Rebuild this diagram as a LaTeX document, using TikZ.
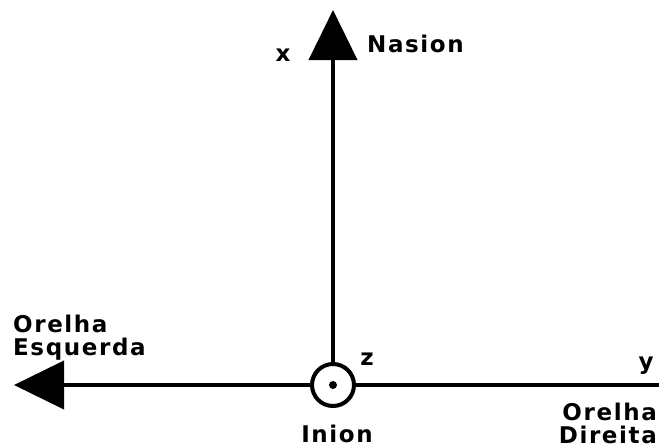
\documentclass[tikz,border=0pt]{standalone}
\usepackage{fontspec}
\setmainfont{DejaVu Sans}
\usepackage{tikz}
\usetikzlibrary{arrows.meta,positioning}
\newfontfamily\labelfont[LetterSpace=7]{DejaVu Sans}
\tikzset{
  axisline/.style={line width=4pt, color=black},
  axisarrow/.style={axisline, -{Triangle[length=50pt,width=48pt]}},
  axislabel/.style={font=\labelfont\fontsize{23}{22.5}\selectfont\bfseries, inner sep=0pt, align=left},
  origin/.style={circle, draw, line width=4pt, fill=white, minimum size=42pt, inner sep=0pt}
}
\begin{document}
\begin{tikzpicture}[x=1pt,y=-1pt]
  \useasboundingbox (0,0) rectangle (659,447);
  % points at the ends of the axes
  \coordinate (nasion) at (333,10);
  \coordinate (esq) at (14,385);
  \coordinate (dir) at (659,385);
  \node[origin] (inion) at (333,385) {};
  \draw[axisarrow] (inion.north) -- (nasion);
  \draw[axisarrow] (inion.west) -- (esq);
  \draw[axisline] (inion.east) -- (dir);
  \fill (inion.center) circle (4);
  % labels
  \node[axislabel, anchor=base] (xlab) at (283,61) {x};
  \node[axislabel, anchor=base west] (nlab) at (367,52) {Nasion};
  \node[axislabel, anchor=base] (zlab) at (367,365) {z};
  \node[axislabel, anchor=base] (ylab) at (646,369) {y};
  \node[axislabel, anchor=base] (ilab) at (337,442) {Inion};
  \node[axislabel, anchor=north west] (elab) at (13,315) {Orelha\\Esquerda};
  \node[axislabel, anchor=north east, align=right] (dlab) at (657,403) {Orelha\\Direita};
\end{tikzpicture}
\end{document}
